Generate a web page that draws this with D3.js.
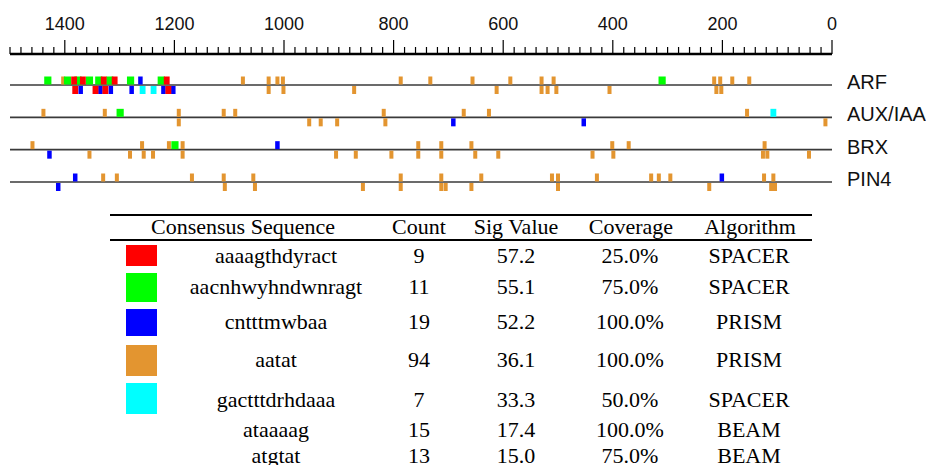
<!DOCTYPE html>
<html>
<head>
<meta charset="utf-8">
<script src="https://cdn.jsdelivr.net/npm/d3@7"></script>
<style>
  body { margin: 0; background: #fff; }
</style>
</head>
<body>
<div id="chart"></div>
<script>
var width = 926,
    height = 465;

// motif table
var motifs = ["aaaagthdyract", "aacnhwyhndwnragt", "cntttmwbaa", "aatat", "gactttdrhdaaa", "ataaaag", "atgtat"];
var counts = [9, 11, 19, 94, 7, 15, 13];
var sigValues = [57.2, 55.1, 52.2, 36.1, 33.3, 17.4, 15.0];
var coverage = [25.0, 75.0, 100.0, 100.0, 50.0, 100.0, 75.0];
var algorithms = ["SPACER", "SPACER", "PRISM", "PRISM", "SPACER", "BEAM", "BEAM"];
var motifColors = ["#ff0000", "#00ff00", "#0000ff", "#e39530", "#00ffff"];

var genes = ["ARF", "AUX/IAA", "BRX", "PIN4"];

// sites: [motif index, strand (+1 above / -1 below), positions]
var arfSites = [
  [3, 1, [1403, 1075, 1028, 1012, 1002, 787, 733, 656, 587, 530, 508, 215, 204, 182, 151]],
  [3, -1, [1028, 1001, 872, 612, 530, 519, 503, 406, 211, 202]],
  [4, -1, [1258, 1238]],
  [2, 1, [1262]],
  [2, -1, [1371, 1335, 1316, 1278, 1220, 1202]],
  [1, 1, [1431, 1395, 1376, 1355, 1338, 1318, 1280, 1224, 310]],
  [0, 1, [1383, 1367, 1329, 1309, 1214]],
  [0, -1, [1381, 1344, 1326, 1211]]
];
var auxSites = [
  [3, 1, [1439, 1327, 1192, 1110, 1089, 818, 672, 626, 155]],
  [3, -1, [1192, 954, 933, 903, 815, 12]],
  [4, 1, [107]],
  [2, -1, [691, 453]],
  [1, 1, [1299]]
];
var brxSites = [
  [3, 1, [1459, 1259, 1210, 1185, 755, 713, 658, 401, 371, 123]],
  [3, -1, [1355, 1281, 1256, 1239, 1185, 905, 869, 804, 755, 713, 651, 609, 437, 399, 126, 118, 42]],
  [2, 1, [1012]],
  [2, -1, [1428]],
  [1, 1, [1199]]
];
var pin4Sites = [
  [3, 1, [1330, 1305, 1168, 1110, 1056, 787, 713, 640, 511, 500, 429, 330, 316, 295, 124, 107]],
  [3, -1, [1108, 1053, 856, 787, 713, 705, 658, 500, 224, 111, 104]],
  [2, 1, [1381, 201]],
  [2, -1, [1412]]
];
var geneSites = [arfSites, auxSites, brxSites, pin4Sites];

var svg = d3.select("#chart").append("svg")
    .attr("width", width)
    .attr("height", height);

var x = d3.scaleLinear()
    .domain([0, 1500])
    .range([832, 10]);

var y = d3.scalePoint()
    .domain(genes)
    .range([85, 182]);

// position ruler
var ruler = svg.append("g");
ruler.append("line")
    .attr("x1", x(1500)).attr("x2", x(0))
    .attr("y1", 54).attr("y2", 54)
    .attr("stroke", "#000")
    .attr("stroke-width", 2.5);

ruler.selectAll(".minor")
    .data(d3.range(0, 1501, 20))
  .enter().append("line")
    .attr("x1", function(d) { return x(d); })
    .attr("x2", function(d) { return x(d); })
    .attr("y1", function(d) { return d % 200 === 0 ? 40 : 47; })
    .attr("y2", 54)
    .attr("stroke", "#000")
    .attr("stroke-width", 1.2);

ruler.selectAll(".lbl")
    .data(d3.range(0, 1501, 200))
  .enter().append("text")
    .attr("x", function(d) { return x(d); })
    .attr("y", 30)
    .attr("text-anchor", "middle")
    .attr("font-family", "Liberation Sans, Arial, sans-serif")
    .attr("font-size", 18)
    .attr("fill", "#111")
    .text(function(d) { return d; });

// gene tracks
svg.selectAll(".track")
    .data(genes)
  .enter().append("line")
    .attr("x1", x(1500)).attr("x2", x(0))
    .attr("y1", function(d) { return y(d); })
    .attr("y2", function(d) { return y(d); })
    .attr("stroke", "#3a3a3a")
    .attr("stroke-width", 1.6);

svg.selectAll(".gene")
    .data(genes)
  .enter().append("text")
    .attr("x", 847)
    .attr("y", function(d) { return y(d) + 4; })
    .attr("font-family", "Liberation Sans, Arial, sans-serif")
    .attr("font-size", 20)
    .attr("fill", "#111")
    .text(function(d) { return d; });

// flatten sites
var sites = [];
geneSites.forEach(function(groups, gi) {
  groups.forEach(function(g) {
    g[2].forEach(function(p) {
      sites.push({gene: genes[gi], motif: g[0], strand: g[1], pos: p});
    });
  });
});

var pxPerBase = x(0) - x(1);
function siteWidth(m) {
  return Math.max(4, motifs[m].length * pxPerBase * 0.82);
}

svg.selectAll(".site")
    .data(sites)
  .enter().append("rect")
    .attr("x", function(d) { return x(d.pos) - siteWidth(d.motif) / 2; })
    .attr("y", function(d) { return d.strand > 0 ? y(d.gene) - 8.5 : y(d.gene) + 1; })
    .attr("width", function(d) { return siteWidth(d.motif); })
    .attr("height", 8)
    .attr("fill", function(d) { return motifColors[d.motif]; });

// table
var table = svg.append("g")
    .attr("font-family", "Liberation Serif, Times New Roman, serif")
    .attr("font-size", 22)
    .attr("fill", "#000");

table.append("line")
    .attr("x1", 110).attr("x2", 812)
    .attr("y1", 215).attr("y2", 215)
    .attr("stroke", "#000").attr("stroke-width", 2);
table.append("line")
    .attr("x1", 110).attr("x2", 812)
    .attr("y1", 240).attr("y2", 240)
    .attr("stroke", "#000").attr("stroke-width", 2);

var headers = ["Consensus Sequence", "Count", "Sig Value", "Coverage", "Algorithm"];
var headX = [243, 419, 516, 631, 750];
var colX = [276, 419, 516, 630, 749];

table.selectAll(".head")
    .data(headers)
  .enter().append("text")
    .attr("x", function(d, i) { return headX[i]; })
    .attr("y", 234)
    .attr("text-anchor", "middle")
    .text(function(d) { return d; });

var rowBase = [263, 294, 329, 367, 407, 437, 463];
var swatchBox = [[245, 21], [273, 29], [309, 27], [345, 31], [383, 31]];

var rows = table.selectAll(".row")
    .data(motifs)
  .enter().append("g")
    .attr("transform", function(d, i) { return "translate(0," + rowBase[i] + ")"; });

rows.filter(function(d, i) { return i < motifColors.length; })
  .append("rect")
    .attr("x", 126)
    .attr("y", function(d, i) { return swatchBox[i][0] - rowBase[i]; })
    .attr("width", 31)
    .attr("height", function(d, i) { return swatchBox[i][1]; })
    .attr("fill", function(d, i) { return motifColors[i]; });

rows.append("text").attr("x", colX[0]).attr("text-anchor", "middle").text(function(d) { return d; });
rows.append("text").attr("x", colX[1]).attr("text-anchor", "middle").text(function(d, i) { return counts[i]; });
rows.append("text").attr("x", colX[2]).attr("text-anchor", "middle").text(function(d, i) { return sigValues[i].toFixed(1); });
rows.append("text").attr("x", colX[3]).attr("text-anchor", "middle").text(function(d, i) { return coverage[i].toFixed(1) + "%"; });
rows.append("text").attr("x", colX[4]).attr("text-anchor", "middle").text(function(d, i) { return algorithms[i]; });
</script>
</body>
</html>
